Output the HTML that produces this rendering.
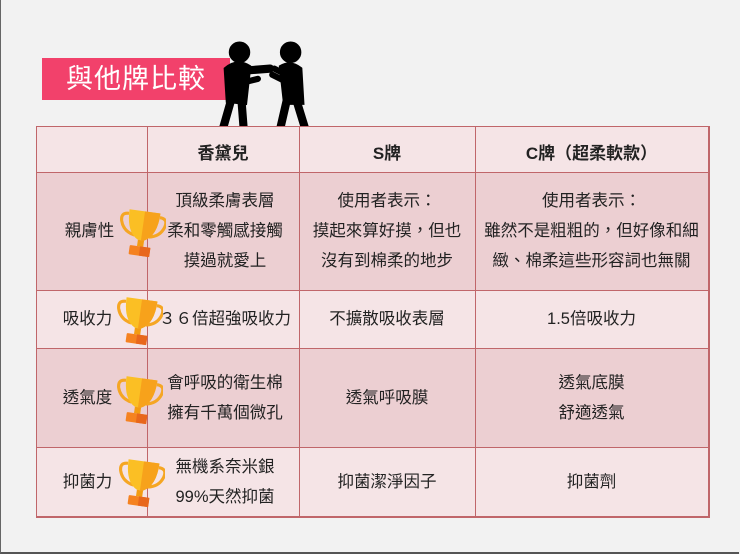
<!DOCTYPE html>
<html><head><meta charset="utf-8"><style>
body{margin:0;width:740px;height:554px;background:#f2f2f2;position:relative;overflow:hidden;font-family:"Liberation Sans","Noto Sans CJK TC",sans-serif;color:#222}
.frame{position:absolute;left:0;top:0;width:738px;height:552px;border-left:1px solid #666;border-bottom:2px solid #555}
.title{position:absolute;left:42px;top:58px;width:188px;height:42px;background:#f2416b;color:#fff;font-size:27px;line-height:42px;padding-left:24px;box-sizing:border-box;letter-spacing:1px}
.c{position:absolute;display:flex;align-items:center;justify-content:center;text-align:center;font-size:16.5px;line-height:30px;box-sizing:border-box;white-space:nowrap}
.h{font-weight:bold;font-size:17px}
.vl{position:absolute;width:1px;background:#c0666a}
.hl{position:absolute;height:1px;background:#c0666a}
.tro{position:absolute;width:48px;height:52px}
</style></head><body>
<div class="frame"></div>
<div class="title">與他牌比較</div>
<svg style="position:absolute;left:214px;top:40px" width="96" height="92" viewBox="0 0 92 90">
<g fill="#000" stroke="#000" stroke-linecap="round">
<circle cx="24" cy="12" r="10"/>
<path d="M10 28 Q22 18 34 26 L30 62 L12 60 Z" stroke-width="3"/>
<path d="M28 30 L54 28" stroke-width="8"/>
<path d="M26 42 L42 38" stroke-width="6"/>
<path d="M16 58 L8 86 M26 60 L28 86" stroke-width="8"/>
<circle cx="74" cy="12" r="10"/>
<path d="M64 26 Q74 20 84 28 L86 62 L68 62 Z" stroke-width="3"/>
<path d="M66 32 L58 28 M68 40 L56 34" stroke-width="6"/>
<path d="M70 60 L64 86 M80 60 L88 86" stroke-width="8"/>
</g></svg>
<div style="position:absolute;left:36px;top:126px;width:672px;height:46px;background:#f5e4e6"></div>
<div style="position:absolute;left:36px;top:172px;width:672px;height:118px;background:#eccfd2"></div>
<div style="position:absolute;left:36px;top:290px;width:672px;height:58px;background:#f5e4e6"></div>
<div style="position:absolute;left:36px;top:348px;width:672px;height:99px;background:#eccfd2"></div>
<div style="position:absolute;left:36px;top:447px;width:672px;height:69px;background:#f5e4e6"></div>
<div class="hl" style="left:36px;top:126px;width:673px"></div>
<div class="hl" style="left:36px;top:172px;width:673px"></div>
<div class="hl" style="left:36px;top:290px;width:673px"></div>
<div class="hl" style="left:36px;top:348px;width:673px"></div>
<div class="hl" style="left:36px;top:447px;width:673px"></div>
<div class="hl" style="left:36px;top:516px;width:673px;height:2px"></div>
<div class="vl" style="left:36px;top:126px;height:391px"></div>
<div class="vl" style="left:147px;top:126px;height:391px"></div>
<div class="vl" style="left:299px;top:126px;height:391px"></div>
<div class="vl" style="left:475px;top:126px;height:391px"></div>
<div class="vl" style="left:708px;top:126px;height:392px;width:2px"></div>
<div class="c h" style="left:147px;top:126px;width:152px;height:56px">香黛兒</div>
<div class="c h" style="left:299px;top:126px;width:176px;height:56px">S牌</div>
<div class="c h" style="left:475px;top:126px;width:233px;height:56px">C牌（超柔軟款）</div>
<div class="c" style="left:52px;top:172px;width:75px;height:118px">親膚性</div>
<div class="c" style="left:150px;top:172px;width:150px;height:118px">頂級柔膚表層<br>柔和零觸感接觸<br>摸過就愛上</div>
<div class="c" style="left:299px;top:172px;width:176px;height:118px">使用者表示：<br>摸起來算好摸，但也<br>沒有到棉柔的地步</div>
<div class="c" style="left:475px;top:172px;width:233px;height:118px">使用者表示：<br>雖然不是粗粗的，但好像和細<br>緻、棉柔這些形容詞也無關</div>
<div class="c" style="left:50px;top:290px;width:75px;height:58px">吸收力</div>
<div class="c" style="left:150px;top:290px;width:150px;height:58px">３６倍超強吸收力</div>
<div class="c" style="left:299px;top:290px;width:176px;height:58px">不擴散吸收表層</div>
<div class="c" style="left:475px;top:290px;width:233px;height:58px">1.5倍吸收力</div>
<div class="c" style="left:50px;top:348px;width:75px;height:99px">透氣度</div>
<div class="c" style="left:150px;top:348px;width:150px;height:99px">會呼吸的衛生棉<br>擁有千萬個微孔</div>
<div class="c" style="left:299px;top:348px;width:176px;height:99px">透氣呼吸膜</div>
<div class="c" style="left:475px;top:348px;width:233px;height:99px">透氣底膜<br>舒適透氣</div>
<div class="c" style="left:50px;top:447px;width:75px;height:69px">抑菌力</div>
<div class="c" style="left:150px;top:447px;width:150px;height:69px">無機系奈米銀<br>99%天然抑菌</div>
<div class="c" style="left:299px;top:447px;width:176px;height:69px">抑菌潔淨因子</div>
<div class="c" style="left:475px;top:447px;width:233px;height:69px">抑菌劑</div>
<svg width="0" height="0" style="position:absolute"><defs>
<g id="t" transform="rotate(8 23 25)">
<path d="M8 8 Q0 8 2 16 Q5 26 16 28" fill="none" stroke="#f5a623" stroke-width="3"/>
<path d="M38 8 Q46 8 44 16 Q41 26 30 28" fill="none" stroke="#f5a623" stroke-width="3"/>
<path d="M8 4 L38 4 Q38 26 26 32 L20 32 Q8 26 8 4Z" fill="#fbbf24"/>
<path d="M23 4 L38 4 Q38 26 26 32 L23 32Z" fill="#f7a21b"/>
<rect x="20" y="32" width="6" height="6" fill="#f39c12"/>
<rect x="13" y="38" width="20" height="9" rx="1" fill="#f58220"/>
<rect x="23" y="38" width="10" height="9" fill="#e8671c"/>
</g></defs></svg>
<svg class="tro" style="left:118px;top:207px" viewBox="0 0 46 50"><use href="#t"/></svg>
<svg class="tro" style="left:115px;top:295px" viewBox="0 0 46 50"><use href="#t"/></svg>
<svg class="tro" style="left:115px;top:374px" viewBox="0 0 46 50"><use href="#t"/></svg>
<svg class="tro" style="left:117px;top:457px" viewBox="0 0 46 50"><use href="#t"/></svg>
</body></html>
